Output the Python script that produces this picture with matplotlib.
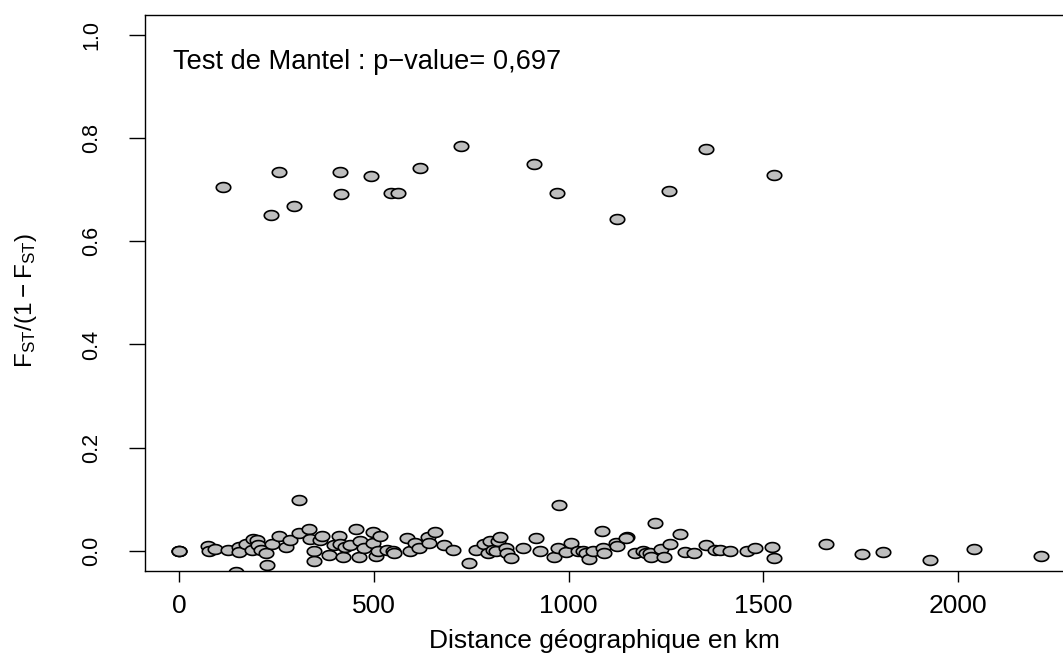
import matplotlib
matplotlib.use("Agg")
import matplotlib.pyplot as plt
import numpy as np
from matplotlib.path import Path

plt.rcParams['font.family'] = ['Liberation Sans', 'DejaVu Sans']
plt.rcParams['mathtext.fontset'] = 'custom'
plt.rcParams['mathtext.rm'] = 'Liberation Sans'

# pairwise distances (km) and Fst/(1-Fst)
distance_km = [
    0, 0, 0, 75, 77, 93, 127, 154, 155, 147, 172, 187, 191, 201, 204, 210, 224, 226,
    238, 256, 275, 286, 307, 307, 334, 337, 346, 347, 361, 367, 384, 397, 411, 414,
    422, 425, 438, 455, 461, 464, 476, 497, 498, 505, 510, 517, 534, 550, 551, 586,
    594, 605, 616, 639, 642, 656, 679, 703, 745, 762, 783, 792, 799, 807, 813, 819,
    824, 839, 841, 852, 884, 916, 926, 962, 976, 974, 993, 1006, 1023, 1036, 1045,
    1053, 1062, 1085, 1088, 1092, 1122, 1124, 1150, 1148, 1171, 1191, 1199, 1208,
    1212, 1221, 1236, 1246, 1259, 1286, 1298, 1323, 1352, 1377, 1388, 1415, 1459,
    1478, 1521, 1528, 1660, 1754, 1806, 1928, 2040, 2212,
    # upper group
    114, 256, 235, 295, 412, 417, 492, 545, 561, 618, 725, 911, 969, 1124, 1257,
    1352, 1528,
]
fst_ratio = [
    0.0, 0.0, 0.0, 0.0097, 0.0, 0.003, 0.001, 0.007, -0.003, -0.041, 0.013, 0.001,
    0.022, 0.021, 0.011, 0.001, -0.004, -0.027, 0.013, 0.0285, 0.0066, 0.021, 0.099,
    0.035, 0.042, 0.022, 0.0, -0.02, 0.021, 0.0285, -0.0077, 0.011, 0.0285, 0.013,
    -0.013, 0.008, 0.011, 0.042, -0.013, 0.0194, 0.0046, 0.037, 0.0155, -0.0103, 0.0,
    0.0285, 0.001, 0.0, -0.004, 0.024, 0.0, 0.014, 0.0046, 0.026, 0.014, 0.036, 0.011,
    0.001, -0.023, 0.001, 0.013, -0.004, 0.0194, 0.001, 0.0, 0.019, 0.026, 0.005,
    -0.004, -0.014, 0.005, 0.0246, -0.0006, -0.0116, 0.0886, 0.0046, -0.002, 0.014,
    0.0, 0.0, -0.004, -0.017, 0.0, 0.038, 0.0046, -0.005, 0.0155, 0.009, 0.027, 0.025,
    -0.004, 0.0, -0.005, -0.004, -0.0116, 0.0537, 0.003, -0.0116, 0.013, 0.033,
    -0.0025, -0.005, 0.011, 0.001, 0.001, 0.0, 0.0, 0.0046, 0.008, -0.015, 0.013,
    -0.007, -0.003, -0.018, 0.004, -0.0097,
    0.706, 0.735, 0.652, 0.668, 0.735, 0.691, 0.726, 0.694, 0.693, 0.743, 0.786,
    0.750, 0.694, 0.643, 0.698, 0.779, 0.728,
]
x_ticks = [0, 500, 1000, 1500, 2000]
y_ticks = [0.0, 0.2, 0.4, 0.6, 0.8, 1.0]
mantel_text = "Test de Mantel : p\u2212value= 0,697"

W, H = 1063, 657
fig = plt.figure(figsize=(W / 100, H / 100), dpi=100)

# axes box in pixels (right side runs past the edge of the figure)
left, right, top, bottom = 144.5, 1075.3, 14.6, 571.3
ax = fig.add_axes([left / W, 1 - bottom / H, (right - left) / W, (bottom - top) / H])
ax.set_xlim(-88.5, 2300.5)
ax.set_ylim(-0.04, 1.04)

# flattened circle marker
t = np.linspace(0, 2 * np.pi, 60)
oval = Path(np.column_stack([np.cos(t), 0.68 * np.sin(t)]), closed=True)

ax.plot(distance_km, fst_ratio, linestyle='none', marker=oval, markersize=10.4,
        markerfacecolor='#bebebe', markeredgecolor='black', markeredgewidth=1.2,
        clip_on=True)

for sp in ax.spines.values():
    sp.set_linewidth(1.0)
    sp.set_color('black')

ax.set_xticks(x_ticks)
ax.set_xticklabels([str(v) for v in x_ticks])
ax.set_yticks(y_ticks)
ax.set_yticklabels(["%.1f" % v for v in y_ticks], rotation=90, va='center')
ax.tick_params(axis='x', length=8, width=1, pad=8, labelsize=19)
ax.tick_params(axis='y', length=11.5, width=1, pad=19, labelsize=15.5)

ax.text(-15, 0.948, mantel_text, ha='left', va='center', fontsize=19.6)

fig.text(604 / W, 1 - 648 / H, "Distance g\u00e9ographique en km",
         ha='center', va='baseline', fontsize=19)
fig.text(26 / W, 1 - 300 / H, r"$\mathregular{F_{ST}/(1-F_{ST})}$",
         ha='center', va='center', rotation=90, fontsize=17.5)

fig.savefig("out.png", dpi=100)
